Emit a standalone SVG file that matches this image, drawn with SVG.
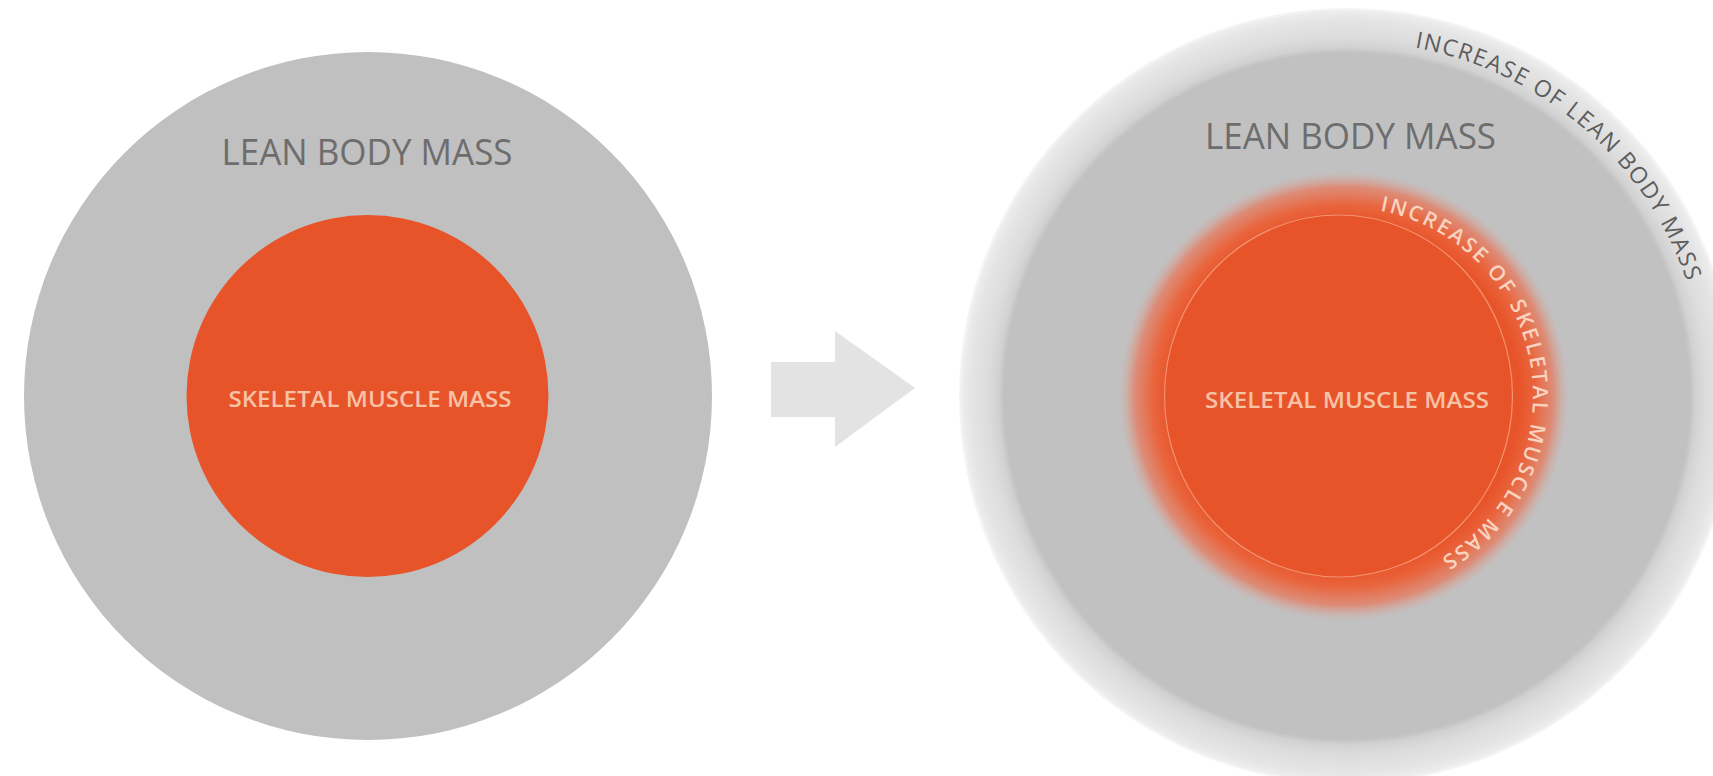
<svg xmlns="http://www.w3.org/2000/svg" xmlns:xlink="http://www.w3.org/1999/xlink" width="1713" height="776" viewBox="0 0 1713 776">
<style>
.title{font-family:"Open Sans","Liberation Sans",sans-serif;font-size:37px;fill:#6d6d6d;text-anchor:middle}
.inner{font-family:"Open Sans","Liberation Sans",sans-serif;font-weight:600;font-size:22px;fill:#f7c2a6;text-anchor:middle}
.arcIn{font-family:"Open Sans","Liberation Sans",sans-serif;font-weight:600;font-size:21px;fill:#f9d3c0}
.arcOut{font-family:"Open Sans","Liberation Sans",sans-serif;font-size:23px;fill:#5c5c5c}
.grey{fill:#c0c0c0}
.orange{fill:#e8542a}
</style>
<defs>
<radialGradient id="ring" gradientUnits="userSpaceOnUse" cx="1347" cy="396" r="388">
<stop offset="0" stop-color="#c1c1c1"/>
<stop offset="0.884" stop-color="#c1c1c1"/>
<stop offset="0.898" stop-color="#d1d1d1"/>
<stop offset="0.925" stop-color="#dcdcdc"/>
<stop offset="0.97" stop-color="#e5e5e5"/>
<stop offset="0.99" stop-color="#ececec"/>
<stop offset="1" stop-color="#f7f7f7"/>
</radialGradient>
<radialGradient id="glow" gradientUnits="userSpaceOnUse" cx="1344" cy="396" r="225">
<stop offset="0" stop-color="#e8542a"/>
<stop offset="0.78" stop-color="#e8542a"/>
<stop offset="0.85" stop-color="#e9653d"/>
<stop offset="0.93" stop-color="#e67a5e" stop-opacity="0.75"/>
<stop offset="1" stop-color="#d9a59a" stop-opacity="0"/>
</radialGradient>
<path id="arcInner" d="M 1380.1 210.5 A 189 189 0 0 1 1360.5 584.3"/>
<path id="arcOuter" d="M 1414.7 47.5 A 355 355 0 0 1 1700.6 334.4"/>
</defs>

<g id="left-lean-body-mass">
<circle class="grey" cx="368" cy="396" r="344"/>
<text class="title" x="367" y="165" textLength="291" lengthAdjust="spacingAndGlyphs">LEAN BODY MASS</text>
</g>
<g id="left-skeletal-muscle-mass">
<circle class="orange" cx="367.5" cy="396" r="181"/>
<text class="inner" x="370" y="407" textLength="283" lengthAdjust="spacingAndGlyphs">SKELETAL MUSCLE MASS</text>
</g>

<g id="connectors">
<polygon points="771,362 835,362 835,331 915,388 835,447 835,417 771,417" fill="#e3e3e3"/>
</g>

<g id="right-lean-body-mass">
<circle cx="1347" cy="396" r="388" fill="url(#ring)"/>
<text class="title" x="1350.5" y="149" textLength="291" lengthAdjust="spacingAndGlyphs">LEAN BODY MASS</text>
<text class="arcOut"><textPath xlink:href="#arcOuter" href="#arcOuter" textLength="376" lengthAdjust="spacing">INCREASE OF LEAN BODY MASS</textPath></text>
</g>
<g id="right-skeletal-muscle-mass">
<circle cx="1344" cy="396" r="225" fill="url(#glow)"/>
<ellipse class="orange" cx="1338.5" cy="396" rx="174" ry="181" stroke="#f19370" stroke-width="1.2"/>
<text class="inner" x="1347" y="408" textLength="284" lengthAdjust="spacingAndGlyphs">SKELETAL MUSCLE MASS</text>
<text class="arcIn"><textPath xlink:href="#arcInner" href="#arcInner" textLength="455" lengthAdjust="spacing">INCREASE OF SKELETAL MUSCLE MASS</textPath></text>
</g>
</svg>
